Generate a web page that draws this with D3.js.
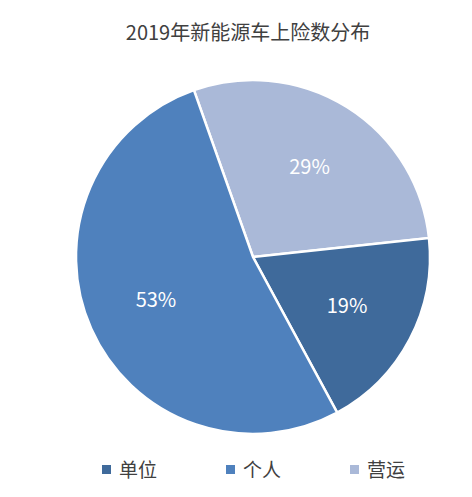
<!DOCTYPE html>
<html><head><meta charset="utf-8">
<script src="https://cdn.jsdelivr.net/npm/d3@7"></script>
<style>body{margin:0;background:#fff;font-family:"Noto Sans CJK SC","Noto Sans",sans-serif;}</style>
</head><body>
<svg id="chart" width="472" height="497"></svg>
<script>
// Pie data, clockwise from the top-left edge
var categories = ["营运", "单位", "个人"];
var values = [29, 19, 53];
var labels = ["29%", "19%", "53%"];
var legendOrder = ["单位", "个人", "营运"];
var colors = { "单位": "#3f6a9b", "个人": "#4f81bd", "营运": "#aab9d8" };

var svg = d3.select("#chart");
var cx = 253, cy = 257, r = 177;
var start = -19.5 * Math.PI / 180;

svg.append("text").attr("x", 248).attr("y", 40).attr("text-anchor", "middle")
  .attr("font-size", 20).attr("fill", "#404040").text("2019年新能源车上险数分布");

var pie = d3.pie().sort(null).startAngle(start).endAngle(start + 2 * Math.PI);
var arcs = pie(values);
var arc = d3.arc().innerRadius(0).outerRadius(r);
var labelArc = d3.arc().innerRadius(r * 0.6).outerRadius(r * 0.6);

var g = svg.append("g").attr("transform", `translate(${cx},${cy})`);
g.selectAll("path").data(arcs).enter().append("path")
  .attr("d", arc)
  .attr("fill", (d, i) => colors[categories[i]])
  .attr("stroke", "#fff").attr("stroke-width", 2.5);

g.selectAll("text").data(arcs).enter().append("text")
  .attr("transform", d => `translate(${labelArc.centroid(d)})`)
  .attr("text-anchor", "middle").attr("dy", "0.35em")
  .attr("font-size", 20).attr("fill", "#fff")
  .text((d, i) => labels[i]);

var legendX = [102, 226, 350];
var lg = svg.selectAll(".lg").data(legendOrder).enter().append("g")
  .attr("transform", (d, i) => `translate(${legendX[i]},470)`);
lg.append("rect").attr("x", 0).attr("y", -5).attr("width", 9).attr("height", 9)
  .attr("fill", d => colors[d]);
lg.append("text").attr("x", 17).attr("y", 0).attr("dy", "0.35em")
  .attr("font-size", 19).attr("fill", "#404040").text(d => d);
</script>
</body></html>
